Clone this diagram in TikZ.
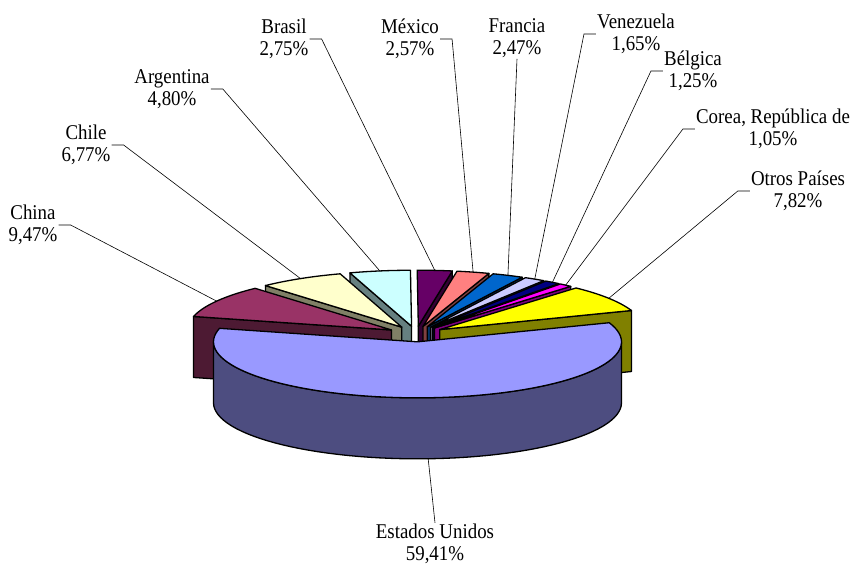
\documentclass[tikz,border=0pt]{standalone}
\usepackage{fontspec}
\setmainfont[FakeStretch=0.9]{Liberation Serif}
\definecolor{usTop}{HTML}{9999FF}\definecolor{usSide}{HTML}{4D4D80}
\definecolor{chTop}{HTML}{993366}\definecolor{chSide}{HTML}{4D1A33}
\definecolor{clTop}{HTML}{FFFFCC}\definecolor{clSide}{HTML}{808066}
\definecolor{arTop}{HTML}{CCFFFF}\definecolor{arSide}{HTML}{668080}
\definecolor{brTop}{HTML}{660066}\definecolor{brSide}{HTML}{330033}
\definecolor{mxTop}{HTML}{FF8080}\definecolor{mxSide}{HTML}{804040}
\definecolor{frTop}{HTML}{0066CC}\definecolor{frSide}{HTML}{003366}
\definecolor{veTop}{HTML}{CCCCFF}\definecolor{veSide}{HTML}{666680}
\definecolor{beTop}{HTML}{000080}\definecolor{beSide}{HTML}{000040}
\definecolor{coTop}{HTML}{FF00FF}\definecolor{coSide}{HTML}{800080}
\definecolor{otTop}{HTML}{FFFF00}\definecolor{otSide}{HTML}{808000}
\def\CX{416}\def\CY{334}\def\RX{204}\def\RY{56}\def\PH{61}\def\EPS{0.14}
\tikzset{
  edge/.style={draw=black, line width=1.3pt, line join=round},
  lbl/.style={align=center, inner sep=1pt, font=\fontsize{21}{22}\selectfont},
  leader/.style={draw=black, line width=0.6pt},
}
% #1 start angle, #2 end angle, #3 top colour, #4 side colour,
% #5 draw face at start (1/0), #6 draw face at end (1/0), #7 name of label point
\newcommand\pieslice[7]{%
  \pgfmathsetmacro\pmid{(#1+#2)/2}%
  \pgfmathsetmacro\pox{\CX+\EPS*\RX*cos(\pmid)}%
  \pgfmathsetmacro\poy{\CY-\EPS*\RY*sin(\pmid)}%
  \pgfmathsetmacro\pax{\pox+\RX*cos(#1)}%
  \pgfmathsetmacro\pay{\poy-\RY*sin(#1)}%
  \pgfmathsetmacro\pbx{\pox+\RX*cos(#2)}%
  \pgfmathsetmacro\pby{\poy-\RY*sin(#2)}%
  \ifnum#5=1
    \filldraw[edge, fill=#4] (\pox,\poy) -- (\pax,\pay) -- ({\pax},{\pay+\PH}) -- ({\pox},{\poy+\PH}) -- cycle;
  \fi
  \ifnum#6=1
    \filldraw[edge, fill=#4] (\pox,\poy) -- (\pbx,\pby) -- ({\pbx},{\pby+\PH}) -- ({\pox},{\poy+\PH}) -- cycle;
  \fi
  \filldraw[edge, fill=#3] (\pox,\poy) -- plot[domain=#1:#2, samples=30, variable=\t] ({\pox+\RX*cos(\t)},{\poy-\RY*sin(\t)}) -- cycle;
  \coordinate (#7) at ({\pox+\RX*cos(\pmid)},{\poy-\RY*sin(\pmid)});
}
\begin{document}
\begin{tikzpicture}[x=1pt, y=-1pt]
\fill[white] (0,0) rectangle (853,564);
\useasboundingbox (0,0) rectangle (853,564);
% back slices, from the back to the front
\pieslice{80.41}{90.31}{brTop}{brSide}{1}{0}{pBr}
\pieslice{90.31}{107.59}{arTop}{arSide}{0}{1}{pAr}
\pieslice{71.16}{80.41}{mxTop}{mxSide}{1}{0}{pMx}
\pieslice{62.27}{71.16}{frTop}{frSide}{1}{0}{pFr}
\pieslice{107.59}{131.96}{clTop}{clSide}{0}{1}{pCl}
\pieslice{56.33}{62.27}{veTop}{veSide}{1}{0}{pVe}
\pieslice{51.83}{56.33}{beTop}{beSide}{1}{0}{pBe}
\pieslice{48.05}{51.83}{coTop}{coSide}{1}{0}{pCo}
\pieslice{19.95}{48.05}{otTop}{otSide}{1}{0}{pOt}
\pieslice{131.96}{166.05}{chTop}{chSide}{0}{1}{pCh}
% Estados Unidos
\pgfmathsetmacro\ux{\CX+\EPS*\RX*cos(273)}
\pgfmathsetmacro\uy{\CY-\EPS*\RY*sin(273)}
\filldraw[edge, fill=usSide] plot[domain=180:360, samples=60, variable=\t] ({\ux+\RX*cos(\t)},{\uy-\RY*sin(\t)})
  -- plot[domain=360:180, samples=60, variable=\t] ({\ux+\RX*cos(\t)},{\uy-\RY*sin(\t)+\PH}) -- cycle;
\filldraw[edge, fill=usTop] (\ux,\uy) -- plot[domain=166.05:379.95, samples=80, variable=\t] ({\ux+\RX*cos(\t)},{\uy-\RY*sin(\t)}) -- cycle;
\coordinate (pUS) at ({\ux+\RX*cos(273)},{\uy-\RY*sin(273)+\PH});
% labels
\node[lbl] (brasil) at (284,39) {Brasil\\2,75\%};
\node[lbl] (mexico) at (410,39) {México\\2,57\%};
\node[lbl] (francia) at (517,38) {Francia\\2,47\%};
\node[lbl] (venez) at (636,34) {Venezuela\\1,65\%};
\node[lbl] (belg) at (693,71) {Bélgica\\1,25\%};
\node[lbl] (corea) at (773,129) {Corea, República de\\1,05\%};
\node[lbl] (otros) at (798,191) {Otros Países\\7,82\%};
\node[lbl] (argen) at (172,89) {Argentina\\4,80\%};
\node[lbl] (chile) at (86,145) {Chile\\6,77\%};
\node[lbl] (china) at (33,225) {China\\9,47\%};
\node[lbl] (eeuu) at (435,544) {Estados Unidos\\59,41\%};
% leader lines
\draw[leader] (brasil.east) -- ++(12,0) -- (pBr);
\draw[leader] (mexico.east) -- ++(12,0) -- (pMx);
\draw[leader] (francia.south) -- (pFr);
\draw[leader] (venez.west) -- ++(-12,0) -- (pVe);
\draw[leader] (belg.west) -- ++(-12,0) -- (pBe);
\draw[leader] (corea.west) -- ++(-12,0) -- (pCo);
\draw[leader] (otros.west) -- ++(-12,0) -- (pOt);
\draw[leader] (argen.east) -- ++(12,0) -- (pAr);
\draw[leader] (chile.east) -- ++(12,0) -- (pCl);
\draw[leader] (china.east) -- ++(12,0) -- (pCh);
\draw[leader] (eeuu.north) -- (pUS);
\end{tikzpicture}
\end{document}
